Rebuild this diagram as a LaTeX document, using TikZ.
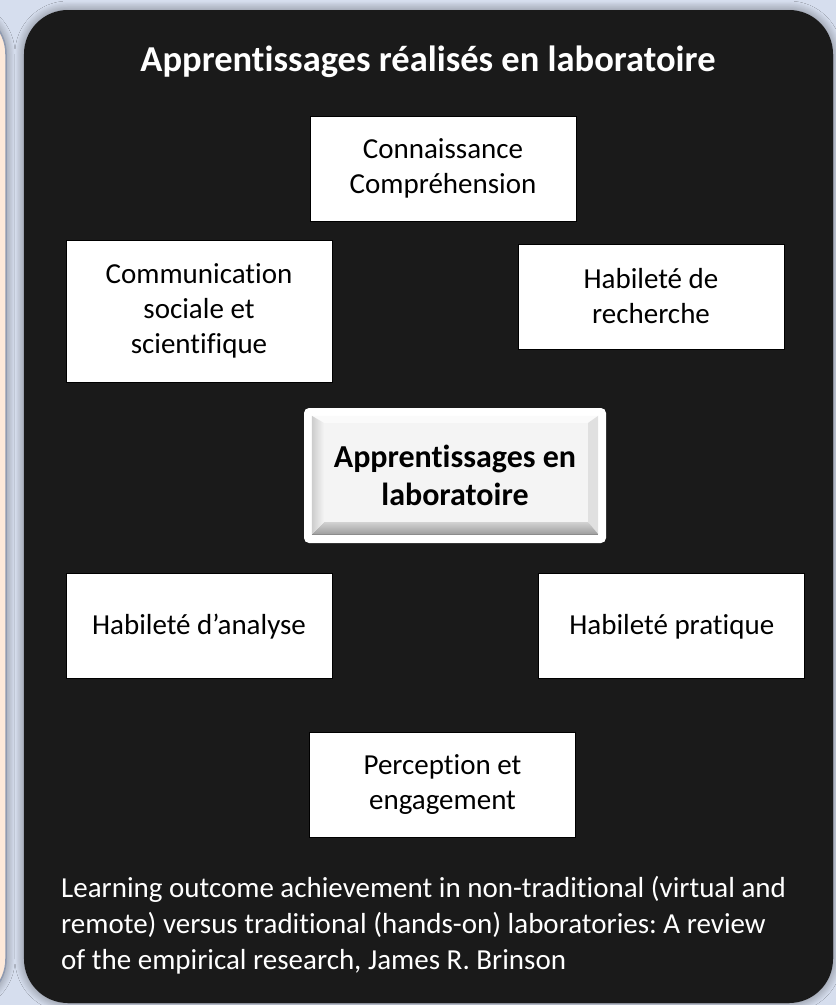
\documentclass[tikz,border=0pt]{standalone}
\usepackage{fontspec}
\setmainfont{Carlito}[Ligatures={TeX,NoCommon}]
\frenchspacing
\usetikzlibrary{positioning, calc, shadows.blur}
\definecolor{PageBlue}{HTML}{D6DEEE}
\definecolor{PanelDark}{HTML}{1A1A1A}
\definecolor{SidePeach}{HTML}{FDE9D9}
\definecolor{SideEdge}{HTML}{8F9AB0}
\definecolor{BevelFace}{HTML}{F4F4F4}

\begin{document}
\begin{tikzpicture}[
    x=1pt, y=-1pt,
    glow/.style={blur shadow={shadow xshift=0pt, shadow yshift=0pt, shadow blur radius=9pt, shadow opacity=45, shadow blur steps=12}},
    skill/.style={rectangle, draw=black, line width=0.8pt, fill=white, minimum width=266pt, minimum height=105pt, inner sep=0pt, align=center, font=\fontsize{29}{35}\selectfont, text=black},
    tall/.style={skill, minimum height=142pt},
    plate/.style={rectangle, fill=white, rounded corners=5pt, minimum width=302pt, minimum height=135pt, inner sep=0pt},
    hub/.style={rectangle, inner sep=0pt, align=center, font=\fontsize{32}{38}\selectfont\bfseries, text=black},
    head/.style={anchor=base, inner sep=0pt, font=\fontsize{36.5}{44}\selectfont\bfseries, text=white},
    source/.style={anchor=west, inner sep=0pt, align=left, font=\fontsize{29}{36}\selectfont, text=white}
  ]
  \useasboundingbox (0,0) rectangle (836,1005);
  \fill[PageBlue] (0,0) rectangle (836,1005);

  % neighbouring panel and main panel
  \draw[glow, fill=SidePeach, draw=SideEdge, line width=1.5pt, rounded corners=44pt] (-300,10) rectangle (6,1003);
  \fill[glow, PanelDark, rounded corners=44pt] (24,10) rectangle (833,1003);

  \node[head] (head) at (428,71) {Apprentissages réalisés en laboratoire};

  % bevelled centre button
  \node[plate] (plate) at (455,475.5) {};
  \coordinate (A) at ($(plate.north west)+(8,8)$);
  \coordinate (B) at ($(plate.north east)+(-8,8)$);
  \coordinate (C) at ($(plate.south east)+(-8,-9)$);
  \coordinate (D) at ($(plate.south west)+(8,-9)$);
  \coordinate (a) at ($(plate.north west)+(20,15)$);
  \coordinate (b) at ($(plate.north east)+(-18,15)$);
  \coordinate (c) at ($(plate.south east)+(-18,-21)$);
  \coordinate (d) at ($(plate.south west)+(20,-21)$);
  \fill[white!98!black] (A) -- (B) -- (b) -- (a) -- cycle;
  \fill[white!88!black] (B) -- (C) -- (c) -- (b) -- cycle;
  \shade[top color=white!82!black, bottom color=white!62!black] (D) -- (C) -- (c) -- (d) -- cycle;
  \shade[left color=white!80!black, right color=BevelFace] (A) -- (D) -- (d) -- (a) -- cycle;
  \fill[BevelFace] (a) -- (b) -- (c) -- (d) -- cycle;
  \draw[white!55!black, line width=0.8pt] (D) -- (C);
  \node[hub] (hub) at (plate) {Apprentissages en\\laboratoire};

  % outcome boxes
  \node[skill] (know) at (443,168.5) {Connaissance\\Compréhension};
  \node[tall] (comm) at (199,311) {Communication\\sociale et\\scientifique};
  \node[skill] (research) at (651,296.5) {Habileté de\\recherche};
  \node[skill, below=191pt of comm] (analysis) {Habileté d’analyse};
  \node[skill, right=206pt of analysis] (practice) {Habileté pratique};
  \node[skill] (percept) at (442.5,785) {Perception et\\engagement};

  \node[source] (source) at (61,925) {Learning outcome achievement in non-traditional (virtual and\\remote) versus traditional (hands-on) laboratories: A review\\of the empirical research, James R. Brinson};
\end{tikzpicture}
\end{document}
